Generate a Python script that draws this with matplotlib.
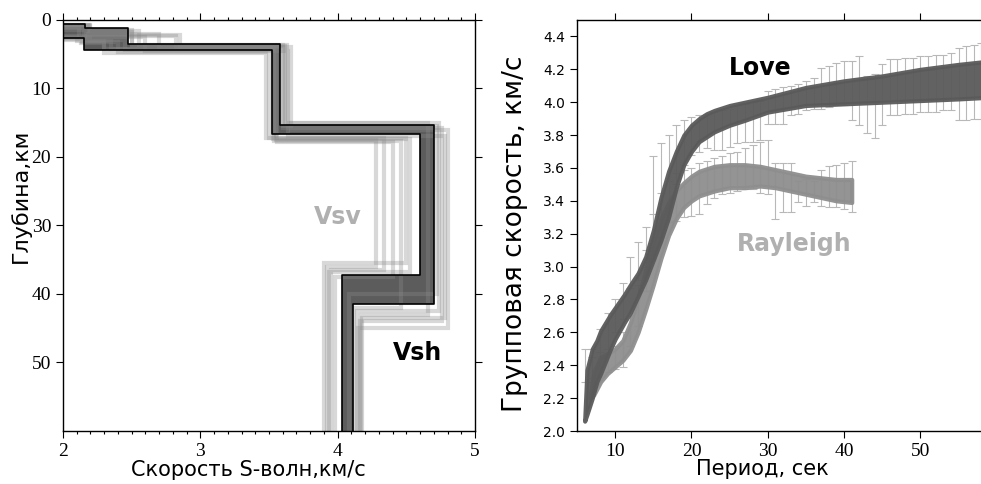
import numpy as np
import matplotlib
matplotlib.use("Agg")
import matplotlib.pyplot as plt
from matplotlib.ticker import MultipleLocator, FormatStrFormatter

# --- Левая панель: скоростные разрезы (глубины границ, км; скорости слоёв, км/с)
prof_a_z = [0.6, 1.2, 3.5, 15.3, 41.5]
prof_a_v = [2.16, 2.47, 3.58, 4.70, 4.11]
prof_b_z = [2.7, 2.7, 4.4, 16.7, 37.2]
prof_b_v = [2.15, 2.15, 3.52, 4.60, 4.03]

# ансамбль моделей (светлые линии)
ens_z = [
    [0.8, 1.5, 3.8, 15.0, 42.5],
    [0.7, 2.2, 4.0, 15.8, 44.0],
    [1.0, 2.5, 4.5, 17.0, 43.5],
    [2.5, 3.0, 4.2, 17.5, 36.0],
    [2.8, 3.2, 4.6, 17.3, 36.5],
    [2.6, 3.1, 4.3, 17.8, 37.5],
    [1.2, 2.0, 4.1, 17.6, 42.0],
    [1.5, 2.4, 3.9, 16.0, 45.0],
    [2.9, 3.3, 4.8, 17.2, 35.5],
    [0.9, 1.8, 3.6, 15.5, 40.0],
    [2.4, 2.9, 4.4, 17.4, 36.8],
    [0.8, 1.6, 3.7, 15.1, 43.0],
]
ens_v = [
    [2.20, 2.50, 3.62, 4.74, 4.14],
    [2.18, 2.85, 3.60, 4.76, 4.16],
    [2.12, 2.60, 3.64, 4.78, 4.18],
    [2.10, 2.30, 3.55, 4.28, 3.92],
    [2.14, 2.40, 3.50, 4.34, 3.95],
    [2.20, 2.35, 3.56, 4.40, 3.98],
    [2.15, 2.70, 3.54, 4.46, 4.12],
    [2.17, 2.82, 3.66, 4.80, 4.15],
    [2.13, 2.30, 3.48, 4.50, 3.90],
    [2.20, 2.50, 3.60, 4.72, 4.08],
    [2.16, 2.45, 3.53, 4.53, 3.94],
    [2.19, 2.55, 3.63, 4.66, 4.17],
]

# --- Правая панель: дисперсионные кривые (нижняя и верхняя границы полосы)
love_p = [6.0, 6.3, 7, 7.6, 8.1, 9.4, 10, 11.2, 12, 13, 14, 15, 16, 17, 18, 19, 20,
          21, 22, 23, 25, 27, 30, 35, 40, 45, 50, 55, 59]
love_hi = [2.06, 2.37, 2.50, 2.55, 2.61, 2.71, 2.75, 2.83, 2.89, 2.96, 3.06, 3.22,
           3.42, 3.58, 3.70, 3.80, 3.86, 3.90, 3.93, 3.95, 3.98, 4.00, 4.03, 4.09,
           4.13, 4.16, 4.20, 4.23, 4.25]
love_lo = [2.06, 2.10, 2.20, 2.30, 2.35, 2.50, 2.56, 2.66, 2.72, 2.82, 2.92, 3.04,
           3.16, 3.30, 3.48, 3.62, 3.70, 3.76, 3.79, 3.82, 3.86, 3.89, 3.94, 3.98,
           3.99, 4.00, 4.01, 4.02, 4.03]

ray_p = [6.7, 7.2, 8.1, 9, 10, 11, 12, 13, 14, 15, 16, 17, 18, 19, 20, 21, 23, 25,
         27, 29, 31, 33, 35, 37, 39, 41]
ray_hi = [2.20, 2.36, 2.45, 2.47, 2.50, 2.55, 2.66, 2.81, 2.98, 3.15, 3.29, 3.39,
          3.46, 3.51, 3.55, 3.58, 3.61, 3.62, 3.62, 3.61, 3.59, 3.57, 3.55, 3.54,
          3.53, 3.53]
ray_lo = [2.20, 2.22, 2.30, 2.35, 2.39, 2.43, 2.49, 2.60, 2.74, 2.89, 3.05, 3.19,
          3.29, 3.36, 3.40, 3.43, 3.46, 3.48, 3.48, 3.49, 3.48, 3.46, 3.44, 3.42,
          3.40, 3.39]

# наблюдения с погрешностями (нижняя и верхняя границы)
love_obs_p = list(range(6, 60))
love_obs_lo = [2.30, 2.32, 2.40, 2.50, 2.60, 2.68, 2.87, 2.92, 3.00, 3.10, 3.22, 3.35,
               3.50, 3.62, 3.68, 3.70, 3.72, 3.71, 3.71, 3.73, 3.75, 3.76, 3.76, 3.77,
               3.87, 3.87, 3.87, 3.92, 3.93, 3.95, 3.96, 3.96, 3.97, 3.98, 3.98, 3.89,
               3.86, 3.81, 3.78, 3.86, 3.92, 3.92, 3.93, 3.93, 3.94, 3.94, 3.94, 3.95,
               3.95, 3.89, 3.89, 3.90, 3.90, 3.91]
love_obs_hi = [2.50, 2.50, 2.62, 2.72, 2.80, 2.90, 3.06, 3.15, 3.24, 3.67, 3.75, 3.80,
               3.86, 3.89, 3.91, 3.92, 3.93, 3.94, 3.95, 3.96, 3.98, 3.99, 4.00, 4.01,
               4.07, 4.08, 4.09, 4.10, 4.11, 4.13, 4.15, 4.21, 4.22, 4.24, 4.25, 4.25,
               4.28, 4.16, 4.17, 4.23, 4.26, 4.26, 4.27, 4.27, 4.28, 4.28, 4.29, 4.29,
               4.30, 4.33, 4.34, 4.35, 4.36, 4.37]

ray_obs_p = list(range(7, 42))
ray_obs_lo = [2.30, 2.33, 2.36, 2.38, 2.39, 2.52, 2.64, 2.85, 3.04, 3.18, 3.27, 3.28,
              3.30, 3.31, 3.32, 3.38, 3.42, 3.44, 3.45, 3.46, 3.47, 3.47, 3.45, 3.44,
              3.29, 3.33, 3.33, 3.39, 3.37, 3.39, 3.37, 3.36, 3.36, 3.35, 3.33]
ray_obs_hi = [2.45, 2.48, 2.50, 2.52, 2.60, 2.70, 2.89, 3.10, 3.32, 3.45, 3.52, 3.57,
              3.59, 3.60, 3.63, 3.64, 3.66, 3.67, 3.69, 3.70, 3.72, 3.74, 3.76, 3.77,
              3.63, 3.63, 3.63, 3.52, 3.53, 3.52, 3.59, 3.61, 3.62, 3.63, 3.64]

ZMAX = 60
VTOP = 1.8  # скорость выше первой границы (за пределами оси)


def step_xy(z, v):
    xs, ys = [VTOP], [0.0]
    prev = VTOP
    for zi, vi in zip(z, v):
        xs += [prev, vi]
        ys += [zi, zi]
        prev = vi
    xs.append(prev)
    ys.append(ZMAX)
    return xs, ys


def value_at(z, v, d):
    i = np.searchsorted(z, d, side="right") - 1
    return VTOP if i < 0 else v[i]


serif = "Liberation Serif"
sans = "DejaVu Sans"

fig = plt.figure(figsize=(9.81, 4.84), dpi=100)
ax1 = fig.add_axes([0.0642, 0.1095, 0.4200, 0.8492])
ax2 = fig.add_axes([0.5882, 0.1095, 0.4200, 0.8492])

# ---- левая панель
for z, v in zip(ens_z, ens_v):
    xs, ys = step_xy(z, v)
    ax1.plot(xs, ys, color="#8a8a8a", lw=3.0, alpha=0.33, solid_joinstyle="miter")

grid = np.unique(np.concatenate([[0.0], prof_a_z, prof_b_z, [ZMAX]]))
va = np.array([value_at(prof_a_z, prof_a_v, d) for d in grid])
vb = np.array([value_at(prof_b_z, prof_b_v, d) for d in grid])
ax1.fill_betweenx(grid, va, vb, step="post", color="#5c5c5c", lw=0)

for z, v in [(prof_a_z, prof_a_v), (prof_b_z, prof_b_v)]:
    xs, ys = step_xy(z, v)
    ax1.plot(xs, ys, color="black", lw=1.2)

ax1.set_xlim(2, 5)
ax1.set_ylim(ZMAX, 0)
ax1.xaxis.set_major_locator(MultipleLocator(1))
ax1.xaxis.set_minor_locator(MultipleLocator(0.1))
ax1.set_yticks([0, 10, 20, 30, 40, 50])
ax1.tick_params(axis="both", which="both", direction="out", top=True, right=True,
                labelsize=14, width=0.8)
ax1.tick_params(which="major", length=5)
ax1.tick_params(which="minor", length=2.5)
for lab in ax1.get_xticklabels() + ax1.get_yticklabels():
    lab.set_fontfamily(serif)
ax1.set_xlabel("Скорость S-волн,км/с", fontsize=15, family=sans)
ax1.set_ylabel("Глубина,км", fontsize=16, family=sans)
ax1.xaxis.set_label_coords(0.451, -0.070)
ax1.yaxis.set_label_coords(-0.078, 0.573)
for s in ax1.spines.values():
    s.set_linewidth(1.0)

ax1.text(4.0, 28.8, "Vsv", color="#b0b0b0", fontsize=17, fontweight="bold",
         family=sans, ha="center", va="center")
ax1.text(4.58, 48.6, "Vsh", color="black", fontsize=17, fontweight="bold",
         family=sans, ha="center", va="center")

# ---- правая панель
lo_r = np.array(ray_obs_lo)
hi_r = np.array(ray_obs_hi)
ax2.errorbar(ray_obs_p, (lo_r + hi_r) / 2, yerr=(hi_r - lo_r) / 2, fmt="none",
             ecolor="#b8b8b8", elinewidth=0.8, capsize=3, capthick=0.8, zorder=1)
lo_l = np.array(love_obs_lo)
hi_l = np.array(love_obs_hi)
ax2.errorbar(love_obs_p, (lo_l + hi_l) / 2, yerr=(hi_l - lo_l) / 2, fmt="none",
             ecolor="#b8b8b8", elinewidth=0.8, capsize=3, capthick=0.8, zorder=1)

ax2.fill_between(ray_p, ray_lo, ray_hi, color="#8e8e8e", lw=3, edgecolor="#8e8e8e",
                 alpha=0.95, zorder=2)
ax2.fill_between(love_p, love_lo, love_hi, color="#5a5a5a", lw=3, edgecolor="#5a5a5a",
                 alpha=0.95, zorder=3)

ax2.set_xlim(5, 59)
ax2.set_ylim(2.0, 4.5)
ax2.set_xticks([10, 20, 30, 40, 50])
ax2.set_yticks(np.round(np.arange(2.0, 4.41, 0.2), 1))
ax2.yaxis.set_major_formatter(FormatStrFormatter("%.1f"))
ax2.tick_params(axis="both", direction="out", top=True, length=5, width=0.8)
ax2.tick_params(axis="x", labelsize=14)
ax2.tick_params(axis="y", labelsize=10)
for lab in ax2.get_xticklabels():
    lab.set_fontfamily(serif)
for lab in ax2.get_yticklabels():
    lab.set_fontfamily(sans)
ax2.spines["right"].set_visible(False)
for s in ["left", "bottom", "top"]:
    ax2.spines[s].set_linewidth(1.0)
ax2.set_xlabel("Период, сек", fontsize=15, family=sans)
ax2.set_ylabel("Групповая скорость, км/с", fontsize=19, family=sans)
ax2.xaxis.set_label_coords(0.451, -0.068)
ax2.yaxis.set_label_coords(-0.119, 0.48)

ax2.text(29, 4.21, "Love", color="black", fontsize=17, fontweight="bold",
         family=sans, ha="center", va="center")
ax2.text(33.4, 3.14, "Rayleigh", color="#b0b0b0", fontsize=17, fontweight="bold",
         family=sans, ha="center", va="center")

fig.savefig("out.png", dpi=100)
